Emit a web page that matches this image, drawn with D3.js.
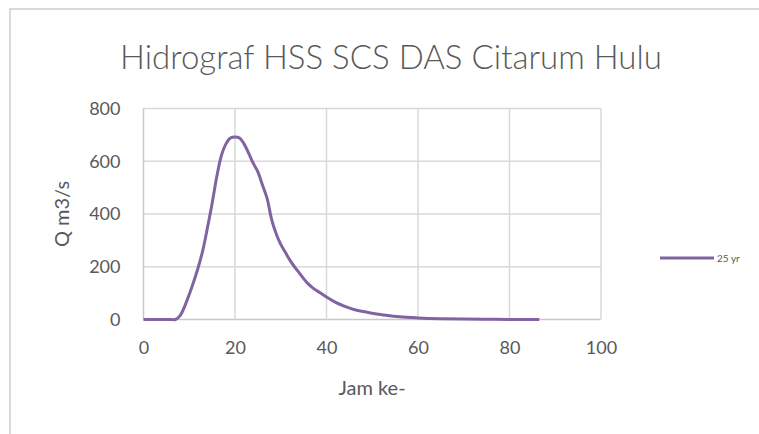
<!DOCTYPE html>
<html>
<head>
<meta charset="utf-8">
<script src="https://cdnjs.cloudflare.com/ajax/libs/d3/7.8.5/d3.min.js"></script>
<style>
  body { margin: 0; background: #fff; }
  text { font-family: "Lato", "Open Sans", sans-serif; fill: #595959; }
</style>
</head>
<body>
<div id="chart"></div>
<script>
// hidrograf values (jam ke-, Q m3/s)
var jam = [0, 1, 2, 3, 4, 5, 6, 7, 8, 9, 10, 11, 12, 13, 14, 15, 16, 17, 18, 19, 20,
           21, 22, 23, 24, 25, 26, 27, 28, 29, 30, 31, 32, 33, 34, 35, 36, 37, 38, 39, 40,
           42, 44, 46, 48, 50, 53, 56, 60, 65, 70, 75, 80, 86.5];
var debit = [0, 0, 0, 0, 0, 0, 0, 0, 15, 50, 95, 145, 200, 265, 350, 440, 540, 620, 665, 688, 692,
             688, 665, 630, 592, 560, 510, 460, 380, 325, 285, 255, 225, 200, 178, 155, 135, 120, 108, 97, 85,
             65, 50, 38, 30, 24, 16, 10, 6, 3, 1.5, 0.8, 0.4, 0.2];
var seriesName = "25 yr";
var xTicks = [0, 20, 40, 60, 80, 100];
var yTicks = [0, 200, 400, 600, 800];

var width = 759,
    height = 434;

var svg = d3.select("#chart")
    .append("svg")
    .attr("width", width)
    .attr("height", height);

/* chart area border */
svg.append("rect")
    .attr("x", 10).attr("y", 9)
    .attr("width", 780).attr("height", 440)
    .attr("fill", "#fff")
    .attr("stroke", "#d9d9d9")
    .attr("stroke-width", 2);

var x = d3.scaleLinear().domain([0, 100]).range([143.5, 601]);
var y = d3.scaleLinear().domain([0, 800]).range([319.5, 108.5]);

/* gridlines */
svg.append("g")
    .selectAll("line.h")
    .data(yTicks)
    .enter().append("line")
    .attr("x1", x(0)).attr("x2", x(100))
    .attr("y1", function(d) { return y(d); })
    .attr("y2", function(d) { return y(d); })
    .attr("stroke", function(d) { return d === 0 ? "#c8c8c8" : "#d9d9d9"; })
    .attr("stroke-width", 1.5);

svg.append("g")
    .selectAll("line.v")
    .data(xTicks)
    .enter().append("line")
    .attr("y1", y(0)).attr("y2", y(800))
    .attr("x1", function(d) { return x(d); })
    .attr("x2", function(d) { return x(d); })
    .attr("stroke", function(d) { return d === 0 ? "#c8c8c8" : "#d9d9d9"; })
    .attr("stroke-width", 1.5);

/* axes (labels only) */
var xAxis = svg.append("g")
    .attr("transform", "translate(0," + y(0) + ")")
    .call(d3.axisBottom(x).tickValues(xTicks).tickSize(0).tickPadding(22));
var yAxis = svg.append("g")
    .attr("transform", "translate(" + x(0) + ",0)")
    .call(d3.axisLeft(y).tickValues(yTicks).tickSize(0).tickPadding(23));
[xAxis, yAxis].forEach(function(a) {
    a.select(".domain").remove();
    a.selectAll("text")
        .attr("font-size", 18)
        .attr("fill", "#595959")
        .style("font-family", "Lato, 'Open Sans', sans-serif");
});

/* the line */
var line = d3.line()
    .x(function(d, i) { return x(jam[i]); })
    .y(function(d) { return y(d); })
    .curve(d3.curveCatmullRom.alpha(0.5));

svg.append("path")
    .datum(debit)
    .attr("d", line)
    .attr("fill", "none")
    .attr("stroke", "#8064a2")
    .attr("stroke-width", 3)
    .attr("stroke-linejoin", "round");

/* title and axis titles */
svg.append("text")
    .attr("x", 391).attr("y", 69)
    .attr("text-anchor", "middle")
    .attr("font-size", 33)
    .attr("font-weight", 300)
    .text("Hidrograf HSS SCS DAS Citarum Hulu");

svg.append("text")
    .attr("x", 372).attr("y", 395)
    .attr("text-anchor", "middle")
    .attr("font-size", 20)
    .text("Jam ke-");

svg.append("text")
    .attr("transform", "translate(69,214) rotate(-90)")
    .attr("text-anchor", "middle")
    .attr("font-size", 20)
    .text("Q m3/s");

/* legend */
var legend = svg.append("g");
legend.append("line")
    .attr("x1", 660).attr("x2", 714)
    .attr("y1", 258).attr("y2", 258)
    .attr("stroke", "#8064a2")
    .attr("stroke-width", 3);
legend.append("text")
    .attr("x", 717).attr("y", 261.5)
    .attr("font-size", 10)
    .text(seriesName);
</script>
</body>
</html>
